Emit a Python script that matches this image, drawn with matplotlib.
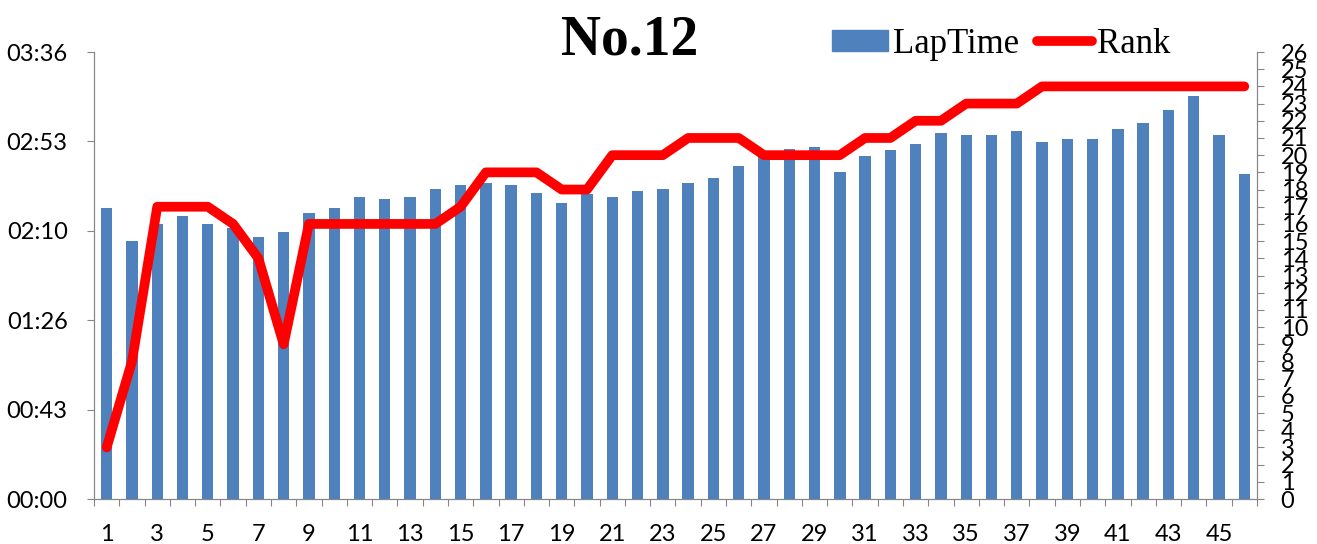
import matplotlib
matplotlib.use("Agg")
import matplotlib.pyplot as plt
from matplotlib.ticker import FixedLocator, FuncFormatter
from matplotlib.patches import Patch
from matplotlib.lines import Line2D
import numpy as np

# ---- data ----
laps = list(range(1, 47))
lap_time_sec = [140.8, 124.8, 132.7, 136.8, 132.7, 131.0, 126.8, 128.9, 138.1, 140.8,
                146.0, 145.0, 146.0, 149.8, 151.8, 152.9, 151.8, 147.9, 142.9, 147.3,
                146.0, 148.9, 149.8, 152.9, 155.0, 160.9, 165.5, 169.0, 170.0, 157.9,
                165.9, 168.8, 171.7, 176.9, 175.8, 175.8, 177.9, 172.7, 173.8, 173.8,
                179.0, 181.7, 188.0, 194.9, 175.8, 157.2]
rank = [3, 8, 17, 17, 17, 16, 14, 9, 16, 16,
        16, 16, 16, 16, 17, 19, 19, 19, 18, 18,
        20, 20, 20, 21, 21, 21, 20, 20, 20, 20,
        21, 21, 22, 22, 23, 23, 23, 24, 24, 24,
        24, 24, 24, 24, 24, 24]
time_ticks = [0, 43.2, 86.4, 129.6, 172.8, 216.0]
rank_ticks = list(range(0, 27))

BAR_COLOR = '#4F81BD'
LINE_COLOR = '#FF0000'
AXIS_COLOR = '#868686'
TICK_FONT = 'Lato'

fig = plt.figure(figsize=(13.17, 5.44), dpi=100)
ax = fig.add_axes([0.0714, 0.0827, 0.8830, 0.8217])
ax2 = ax.twinx()

ax.bar(laps, lap_time_sec, width=0.45, color=BAR_COLOR, zorder=2)
ax2.plot(laps, rank, color=LINE_COLOR, lw=7, solid_capstyle='round',
         solid_joinstyle='round', zorder=3)

ax.set_xlim(0.5, 46.5)
ax.set_ylim(0, 216)
ax2.set_ylim(0, 26)

def fmt_time(v, pos):
    s = int(round(v))
    return f"{s // 60:02d}:{s % 60:02d}"

ax.yaxis.set_major_locator(FixedLocator(time_ticks))
ax.yaxis.set_major_formatter(FuncFormatter(fmt_time))
ax2.yaxis.set_major_locator(FixedLocator(rank_ticks))

# x: tick marks at category boundaries, labels on odd laps
ax.xaxis.set_major_locator(FixedLocator(np.arange(0.5, 47, 1)))
ax.xaxis.set_major_formatter(FuncFormatter(lambda v, p: ""))
ax.xaxis.set_minor_locator(FixedLocator([l for l in laps if l % 2 == 1]))
ax.xaxis.set_minor_formatter(FuncFormatter(lambda v, p: f"{int(round(v))}"))

for a in (ax, ax2):
    for s in a.spines.values():
        s.set_color(AXIS_COLOR)
    a.spines['top'].set_visible(False)

ax.tick_params(axis='x', which='major', direction='out', length=5, color=AXIS_COLOR)
ax.tick_params(axis='x', which='minor', length=0, pad=18, labelsize=17)
ax.tick_params(axis='y', direction='out', length=5, color=AXIS_COLOR, pad=14, labelsize=17)
ax2.tick_params(axis='y', direction='out', length=5, color=AXIS_COLOR, pad=12, labelsize=17)

for lbl in ax.get_xticklabels(minor=True) + ax.get_yticklabels() + ax2.get_yticklabels():
    lbl.set_fontfamily(TICK_FONT)

# title and legend
fig.text(0.478, 0.925, "No.12", ha='center', va='center', fontsize=40,
         fontweight='bold', family='Liberation Serif')

handles = [Patch(color=BAR_COLOR, label='LapTime'),
           Line2D([], [], color=LINE_COLOR, lw=7, solid_capstyle='round', label='Rank')]
fig.legend(handles=handles, loc='center left', bbox_to_anchor=(0.632, 0.919),
           ncol=2, frameon=False, borderpad=0, borderaxespad=0,
           handlelength=1.6, handleheight=0.55, handletextpad=0.15,
           columnspacing=0.5, prop={'family': 'Liberation Serif', 'size': 25})

fig.savefig('out.png', dpi=100)
